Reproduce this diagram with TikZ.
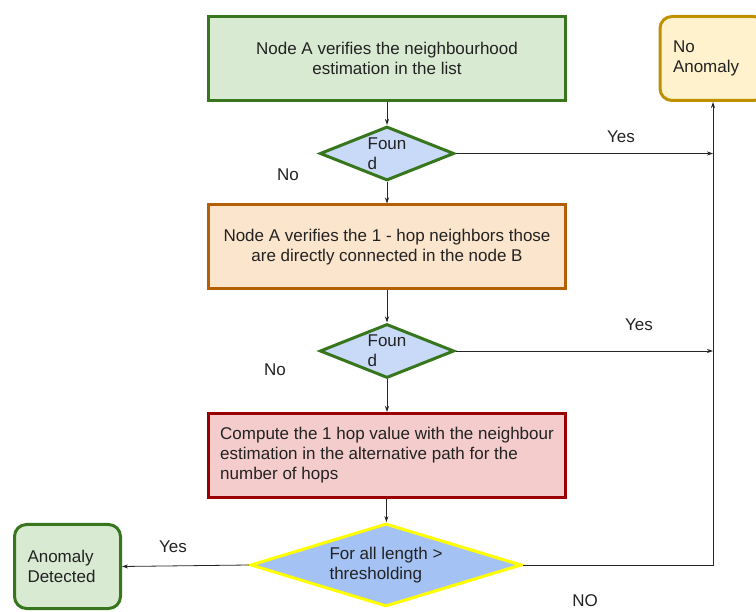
\documentclass[tikz,border=0pt]{standalone}
\usepackage{fontspec}
\setmainfont{Liberation Sans}
\usepackage{xcolor}
\usetikzlibrary{shapes.geometric,arrows.meta,positioning,calc}

\definecolor{boxgreen}{HTML}{D9EAD3}
\definecolor{edgegreen}{HTML}{38761D}
\definecolor{boxorange}{HTML}{FCE5CD}
\definecolor{edgeorange}{HTML}{B45F06}
\definecolor{boxred}{HTML}{F4CCCC}
\definecolor{edgered}{HTML}{990000}
\definecolor{boxblue}{HTML}{C9DAF8}
\definecolor{boxblueB}{HTML}{A4C2F4}
\definecolor{edgeyellow}{HTML}{FFFF00}
\definecolor{boxyellow}{HTML}{FFF2CC}
\definecolor{edgegold}{HTML}{BF9000}
\definecolor{inkgray}{HTML}{222222}

\begin{document}
\begin{tikzpicture}[x=1pt, y=-1pt,
    every node/.style={font=\fontsize{17}{20}\selectfont, text=inkgray},
    procbox/.style={rectangle, line width=3pt, minimum width=357pt, minimum height=84pt, inner sep=0pt},
    decision/.style={diamond, line width=3pt, aspect=3, inner sep=0pt, align=left},
    terminal/.style={rectangle, rounded corners=12pt, line width=3pt, minimum width=106pt, minimum height=84pt, text width=80pt, align=left, inner sep=0pt},
    flow/.style={-{Stealth[length=6pt, width=4pt]}, line width=0.8pt, draw=black!85}]
    \useasboundingbox (0, 0) rectangle (756, 612);
    \clip (0, 0) rectangle (756, 612);

    % main column
    \node [procbox, fill=boxgreen, draw=edgegreen, align=center] (verify) at (387, 58.5) {Node A verifies the neighbourhood\\estimation in the list};
    \node [decision, fill=boxblue, draw=edgegreen, minimum width=125pt, minimum height=54pt] (foundA) at (387, 153.5) {Foun\\d};
    \node [procbox, fill=boxorange, draw=edgeorange, align=center] (direct) at (387, 247) {Node A verifies the 1 - hop neighbors those\\are directly connected in the node B};
    \node [decision, fill=boxblue, draw=edgegreen, minimum width=125pt, minimum height=54pt] (foundB) at (387, 351) {Foun\\d};
    \node [procbox, fill=boxred, draw=edgered, align=left] (compute) at (387, 455.5) {Compute the 1 hop value with the neighbour\\estimation in the alternative path for the\\number of hops};
    \node [decision, fill=boxblueB, draw=edgeyellow, minimum width=271pt, minimum height=83pt] (thr) at (386, 565) {For all length >\\thresholding};

    % end states
    \node [terminal, fill=boxyellow, draw=edgegold] (noanom) at (713, 58.5) {No\\Anomaly};
    \node [terminal, fill=boxgreen, draw=edgegreen] (detected) at (67.5, 566.5) {Anomaly\\Detected};

    \draw [flow] (verify) -- (foundA);
    \draw [flow] (foundA) -- (direct);
    \draw [flow] (direct) -- (foundB);
    \draw [flow] (foundB) -- (compute);
    \draw [flow] (compute) -- (thr);

    \draw [flow] (foundA.east) -- (foundA.east -| noanom.south);
    \draw [flow] (foundB.east) -- (foundB.east -| noanom.south);
    \draw [flow] (thr.east) -- (thr.east -| noanom.south) -- (noanom.south);
    \draw [flow] (thr.west) -- (detected.east);

    % branch labels
    \node (yesA) at (621, 137) {Yes};
    \node (noA) at (288, 175) {No};
    \node (yesB) at (639, 325) {Yes};
    \node (noB) at (275, 370) {No};
    \node (yesC) at (173, 547) {Yes};
    \node (noC) at (585, 601) {NO};
\end{tikzpicture}
\end{document}
